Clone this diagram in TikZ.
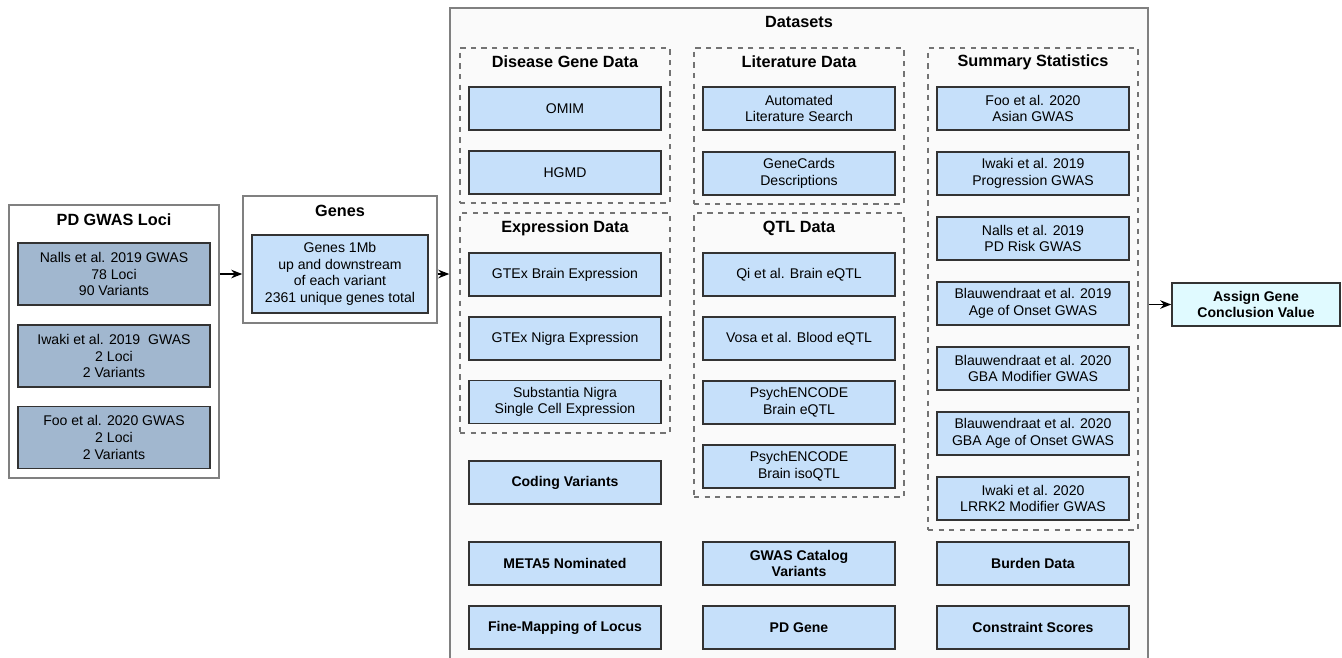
\documentclass[tikz,border=0pt]{standalone}
\usepackage{fontspec}
\setmainfont{Liberation Sans}
\usetikzlibrary{arrows.meta}

\definecolor{dsblue}{RGB}{198,224,250}
\definecolor{lociblue}{RGB}{161,183,207}
\definecolor{endcyan}{RGB}{224,250,255}
\definecolor{panelgray}{RGB}{250,250,250}

\begin{document}
\begin{tikzpicture}[x=0.02cm, y=-0.02cm,
  every node/.style={font=\fontsize{8}{9.5}\selectfont, align=center, inner sep=0},
  outerbox/.style={draw=black!50, line width=0.9pt, fill=white},
  groupbox/.style={draw=black!55, dashed, line width=0.7pt, minimum width=4.2cm},
  dsbox/.style={draw=black!80, line width=0.9pt, fill=dsblue, minimum width=3.84cm, minimum height=0.86cm},
  locibox/.style={draw=black!80, line width=0.9pt, fill=lociblue, minimum width=3.84cm, minimum height=1.24cm},
  title/.style={font=\fontsize{9.25}{11}\selectfont\bfseries},
  bold/.style={font=\fontsize{8}{9.5}\selectfont\bfseries},
  flow/.style={-{Stealth[length=2.2mm, width=1.7mm]}, line width=0.9pt}]
\clip (0,0) rectangle (1342,657);

% PD GWAS loci
\node[outerbox, minimum width=4.2cm, minimum height=5.46cm] (loci) at (114,341.5) {};
\node[title] (locititle) at (114,220) {PD GWAS Loci};
\node[locibox] (nalls) at (114,274) {Nalls et al. 2019 GWAS\\78 Loci\\90 Variants};
\node[locibox] (iwaki) at (114,356) {Iwaki et al. 2019\ \ GWAS\\2 Loci\\2 Variants};
\node[locibox] (foo) at (114,437.5) {Foo et al. 2020 GWAS\\2 Loci\\2 Variants};

% genes
\node[outerbox, minimum width=3.88cm, minimum height=2.54cm] (genes) at (340,259.5) {};
\node[title] (genestitle) at (340,211) {Genes};
\node[dsbox, minimum width=3.52cm, minimum height=1.56cm] (geneinfo) at (340,274) {Genes 1Mb\\up and downstream\\of each variant\\2361 unique genes total};

% datasets panel
\node[outerbox, fill=panelgray, minimum width=13.96cm, minimum height=13.24cm] (datasets) at (799,339) {};
\node[title] (dstitle) at (799,22) {Datasets};

\node[groupbox, minimum height=3.1cm] (disease) at (565,125.5) {};
\node[title] at (565,62) {Disease Gene Data};
\node[dsbox] (omim) at (565,108.5) {OMIM};
\node[dsbox] (hgmd) at (565,172.5) {HGMD};

\node[groupbox, minimum height=3.12cm] (literature) at (799,126) {};
\node[title] at (799,62) {Literature Data};
\node[dsbox] (autolit) at (799,108.5) {Automated\\Literature Search};
\node[dsbox] (genecards) at (799,173.5) {GeneCards\\Descriptions};

\node[groupbox, minimum height=9.64cm] (summary) at (1033,289) {};
\node[title] at (1033,62) {Summary Statistics};
\foreach \y/\txt [count=\i] in {
  108.5/{Foo et al. 2020\\Asian GWAS},
  173.5/{Iwaki et al. 2019\\Progression GWAS},
  238.5/{Nalls et al. 2019\\PD Risk GWAS},
  303.5/{Blauwendraat et al. 2019\\Age of Onset GWAS},
  368.5/{Blauwendraat et al. 2020\\GBA Modifier GWAS},
  433.5/{Blauwendraat et al. 2020\\GBA Age of Onset GWAS},
  498.5/{Iwaki et al. 2020\\LRRK2 Modifier GWAS}}
  \node[dsbox] (sum\i) at (1033,\y) {\txt};

\node[groupbox, minimum height=4.4cm] (expression) at (565,323) {};
\node[title] at (565,228) {Expression Data};
\node[dsbox] (gtexbrain) at (565,274.5) {GTEx Brain Expression};
\node[dsbox] (gtexnigra) at (565,338.5) {GTEx Nigra Expression};
\node[dsbox] (sncell) at (565,402) {Substantia Nigra\\Single Cell Expression};

\node[groupbox, minimum height=5.68cm] (qtl) at (799,355) {};
\node[title] at (799,228) {QTL Data};
\node[dsbox] (qi) at (799,274.5) {Qi et al. Brain eQTL};
\node[dsbox] (vosa) at (799,338.5) {Vosa et al. Blood eQTL};
\node[dsbox] (pecqtl) at (799,402.5) {PsychENCODE\\Brain eQTL};
\node[dsbox] (peciso) at (799,466.5) {PsychENCODE\\Brain isoQTL};

\node[dsbox, bold] (coding) at (565,482.5) {Coding Variants};
\node[dsbox, bold] (meta5) at (565,563.5) {META5 Nominated};
\node[dsbox, bold] (catalog) at (799,563.5) {GWAS Catalog\\Variants};
\node[dsbox, bold] (burden) at (1033,563.5) {Burden Data};
\node[dsbox, bold] (finemap) at (565,627.5) {Fine-Mapping of Locus};
\node[dsbox, bold] (pdgene) at (799,627.5) {PD Gene};
\node[dsbox, bold] (constraint) at (1033,627.5) {Constraint Scores};

% conclusion
\node[dsbox, bold, fill=endcyan, minimum width=3.36cm] (assign) at (1256,304.5) {Assign Gene\\Conclusion Value};

\draw[flow] (loci.east |- geneinfo) -- (genes.west |- geneinfo);
\draw[flow] (genes.east |- geneinfo) -- (datasets.west |- geneinfo);
\draw[flow] (datasets.east |- assign) -- (assign);
\end{tikzpicture}
\end{document}
